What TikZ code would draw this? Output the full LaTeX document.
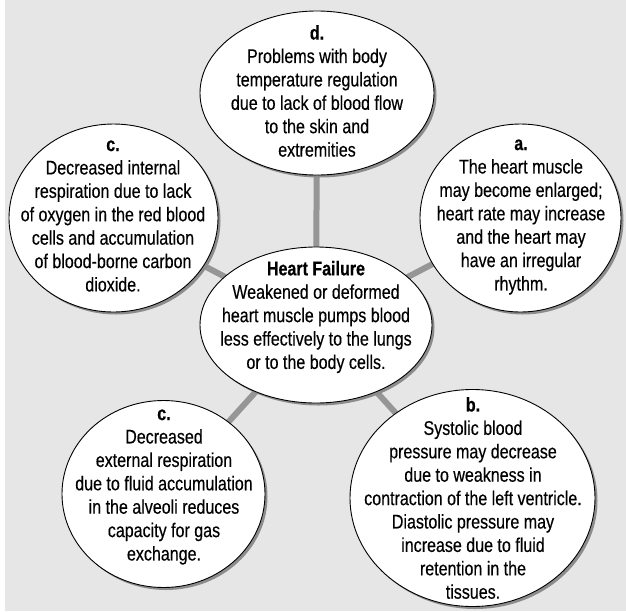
\documentclass[tikz,border=0pt]{standalone}
\usepackage{fontspec}
\setmainfont{Liberation Sans}[FakeStretch=0.81,FakeBold=0.35]
\usetikzlibrary{shapes.geometric,shadows}
\pgfdeclarelayer{bgl}
\pgfdeclarelayer{lines}
\pgfsetlayers{bgl,lines,main}
\definecolor{bggray}{HTML}{E6E6E6}
\definecolor{linkgray}{HTML}{969696}
\definecolor{shadowgray}{HTML}{8C8C8C}
\tikzset{
  bubble/.style={ellipse, draw=black, line width=0.9pt, fill=white, inner sep=0pt,
    drop shadow={shadow xshift=2.5pt, shadow yshift=-2.5pt, fill=shadowgray, opacity=1}},
  bubbletext/.style={align=center, inner sep=0pt, font=\fontsize{19.8}{23.4}\selectfont},
  link/.style={draw=linkgray, line width=6pt}
}
\begin{document}
\begin{tikzpicture}[x=1pt,y=-1pt]
\useasboundingbox (0,0) rectangle (626,611);
\begin{pgfonlayer}{bgl}
  \fill[bggray] (5,0) rectangle (626,611);
\end{pgfonlayer}
% ellipses
\node[bubble, minimum width=234pt, minimum height=164pt] (dE) at (317,93) {};
\node[bubble, minimum width=209pt, minimum height=188pt] (cTE) at (113.5,218) {};
\node[bubble, minimum width=201pt, minimum height=188pt] (aE) at (520.5,218) {};
\node[bubble, minimum width=232pt, minimum height=156pt] (cE) at (316,325) {};
\node[bubble, minimum width=203pt, minimum height=187pt] (cBE) at (163.5,494) {};
\node[bubble, minimum width=245pt, minimum height=217pt] (bE) at (472.5,498) {};
% connectors
\begin{pgfonlayer}{lines}
  \draw[link] (cE.center) -- (dE.center);
  \draw[link] (cE.center) -- (cTE.center);
  \draw[link] (cE.center) -- (aE.center);
  \draw[link] (cE.center) -- (cBE.center);
  \draw[link] (cE.center) -- (bE.center);
\end{pgfonlayer}
% texts
\node[bubbletext] (dT) at (317,91) {\textbf{d.}\\Problems with body\\temperature regulation\\due to lack of blood flow\\to the skin and\\extremities};
\node[bubbletext] (cTT) at (113,216) {\textbf{c.}\\Decreased internal\\respiration due to lack\\of oxygen in the red blood\\cells and accumulation\\of blood-borne carbon\\dioxide.};
\node[bubbletext] (aT) at (521,217) {\textbf{a.}\\The heart muscle\\may become enlarged;\\heart rate may increase\\and the heart may\\have an irregular\\rhythm.};
\node[bubbletext] (cT) at (316,317) {\textbf{Heart Failure}\\Weakened or deformed\\heart muscle pumps blood\\less effectively to the lungs\\or to the body cells.};
\node[bubbletext] (cBT) at (164,487) {\textbf{c.}\\Decreased\\external respiration\\due to fluid accumulation\\in the alveoli reduces\\capacity for gas\\exchange.};
\node[bubbletext] (bT) at (473,498) {\textbf{b.}\\Systolic blood\\pressure may decrease\\due to weakness in\\contraction of the left ventricle.\\Diastolic pressure may\\increase due to fluid\\retention in the\\tissues.};
\end{tikzpicture}
\end{document}
